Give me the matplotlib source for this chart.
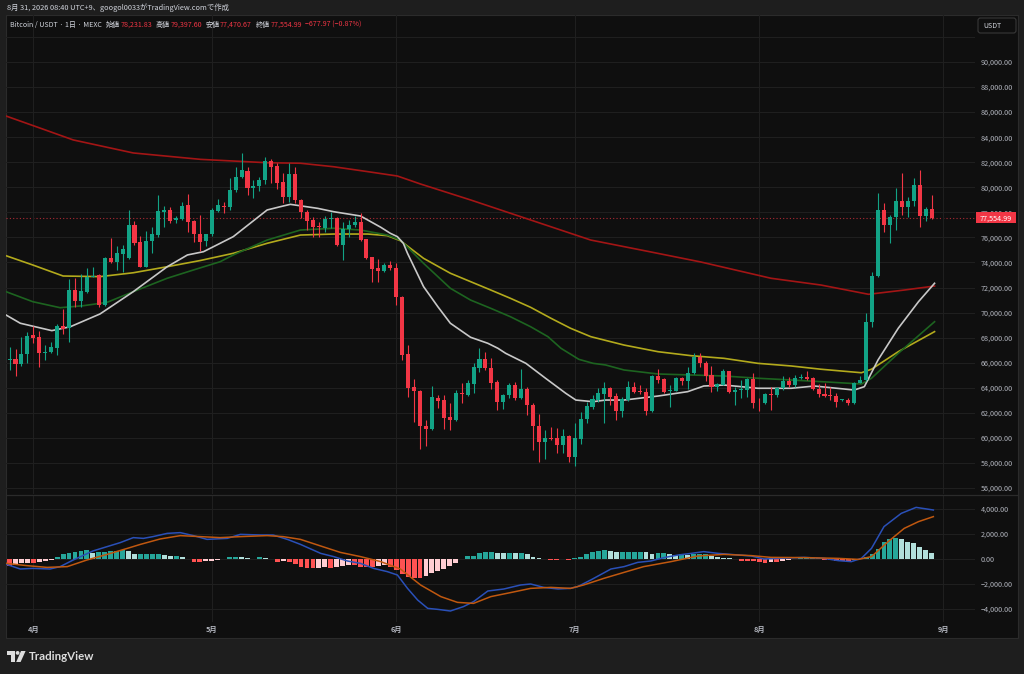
import numpy as np
import pandas as pd
import matplotlib
matplotlib.use('Agg')
import matplotlib.pyplot as plt
import matplotlib.patches as patches

plt.rcParams['font.family'] = ['Noto Sans CJK JP', 'DejaVu Sans']

# --- DATA ---
DATES = pd.date_range('2026-03-27', periods=157, freq='D')

OPEN = [67200, 66220, 66300, 65900, 66720, 68210, 68030, 66800, 66830, 67200,
        68930, 68750, 71800, 70930, 71670, 72840, 73000, 70610, 74330, 74040,
        74680, 74330, 76970, 75610, 73670, 75720, 76190, 78060, 78190, 77360,
        77470, 78590, 77310, 76250, 75720, 76250, 78140, 78540, 78460, 79790,
        80800, 81330, 79920, 80100, 80580, 82100, 81700, 80450, 79200, 81040,
        78990, 78060, 77390, 76910, 76730, 77440, 77520, 75400, 76650, 76990,
        77260, 75850, 74410, 73590, 73350, 73800, 73590, 71270, 66700, 64060,
        63770, 60950, 60740, 63210, 63000, 61640, 61400, 63580, 63420, 64330,
        65610, 66270, 65610, 64440, 62890, 63420, 64220, 63210, 63900, 62630,
        60950, 59670, 60020, 59970, 59430, 60180, 58500, 59910, 61480, 62440,
        63030, 63500, 63960, 63340, 62150, 63030, 64040, 63740, 63690, 62170,
        64940, 64670, 63740, 63770, 64750, 64570, 65150, 66480, 66000, 65020,
        64040, 64250, 65340, 63690, 63820, 63820, 64670, 62810, 62760, 63500,
        63420, 63960, 64570, 64220, 64760, 64840, 64760, 63880, 63510, 63430,
        63370, 63000, 63030, 62760, 64410, 64620, 69230, 72920, 78190, 76990,
        77660, 78910, 78460, 78910, 80180, 77740, 78231.83]
HIGH = [68750, 67280, 67070, 68080, 68480, 68960, 68560, 67420, 67630, 69070,
        70260, 72660, 72760, 73060, 73590, 73670, 73050, 74420, 75930, 75320,
        75400, 78190, 77340, 76140, 76510, 76810, 79390, 78510, 78460, 77710,
        78850, 79470, 77390, 77790, 76270, 78320, 79040, 78850, 80720, 81650,
        82710, 81590, 80580, 80850, 82390, 82230, 81910, 81170, 81910, 81590,
        79050, 78190, 77660, 77260, 77710, 78060, 77600, 77260, 77390, 77710,
        77980, 75900, 74470, 74250, 73930, 74150, 73990, 71300, 67410, 64670,
        63800, 61430, 64140, 63420, 63420, 62760, 63820, 64360, 64620, 65950,
        67200, 66880, 66400, 64620, 63500, 64360, 64490, 65470, 64090, 62760,
        61880, 60630, 60840, 60760, 60710, 60230, 61160, 62090, 62890, 63420,
        63960, 64490, 64090, 63560, 63290, 64570, 64490, 64220, 63960, 64990,
        65470, 64750, 64220, 64830, 64830, 65690, 66750, 66750, 66160, 65740,
        64360, 65470, 65370, 64090, 64620, 64750, 65150, 63160, 63560, 64090,
        64090, 64940, 64890, 65020, 65100, 65370, 64890, 64300, 64360, 64090,
        63560, 63120, 63160, 64490, 64940, 69940, 73270, 79520, 78720, 77790,
        79920, 81170, 79250, 80720, 81380, 78460, 79397.60]
LOW = [65400, 65420, 64940, 65740, 65950, 67550, 65690, 66220, 66750, 66620,
       68270, 67680, 70480, 70480, 71540, 72820, 70480, 70560, 73990, 73400,
       73270, 74280, 75400, 73640, 73640, 74730, 76060, 76860, 77180, 77130,
       77390, 76460, 75660, 74920, 75320, 76140, 78060, 77980, 78190, 79650,
       80720, 79390, 79120, 79730, 80240, 80370, 79840, 78720, 78850, 78720,
       77520, 76590, 76060, 76060, 76460, 76730, 75320, 74200, 76060, 76810,
       75740, 74250, 72470, 72470, 73270, 73400, 70610, 66220, 63290, 61300,
       59090, 59350, 60630, 62360, 60680, 60630, 61380, 62760, 63340, 63610,
       65290, 65420, 63880, 62230, 62280, 63160, 63030, 63080, 61830, 59040,
       58100, 58290, 59830, 58820, 58770, 58100, 57760, 59510, 61160, 62280,
       62890, 61220, 62630, 61430, 61640, 62970, 63560, 63500, 61830, 62100,
       64360, 63610, 62490, 63740, 64220, 63880, 65100, 65690, 64570, 63690,
       63770, 64220, 63560, 62630, 63160, 63290, 62360, 62170, 62710, 62230,
       63290, 63820, 64090, 64090, 64680, 64620, 63830, 63240, 63240, 63030,
       62500, 62950, 62630, 62710, 64360, 64570, 68880, 72870, 76460, 75530,
       76590, 77790, 77600, 78540, 76860, 77340, 77470.67]
CLOSE = [66200, 66300, 65900, 66720, 68160, 68000, 66800, 66880, 67230, 68930,
         68720, 71800, 70930, 71730, 72870, 72920, 70610, 74390, 74040, 74730,
         75050, 76990, 75580, 73670, 75740, 76250, 78110, 78190, 77310, 77520,
         78540, 77260, 76250, 75660, 76250, 78190, 78590, 78460, 79790, 80850,
         81380, 79920, 80100, 80580, 82100, 81650, 80370, 79200, 81040, 78990,
         78060, 77340, 76860, 76810, 77470, 77520, 75400, 76670, 76990, 77260,
         75800, 74330, 73480, 73350, 73800, 73590, 71270, 66620, 64010, 63740,
         60950, 60740, 63260, 62950, 61590, 61400, 63560, 63500, 64360, 65660,
         66270, 65610, 64410, 62890, 63420, 64220, 63210, 63900, 62630, 60950,
         59670, 60020, 59910, 59430, 60150, 58500, 59970, 61510, 62550, 63080,
         63560, 63960, 63240, 62150, 63080, 64040, 63690, 63640, 62170, 64940,
         64620, 63690, 63820, 64750, 64570, 65150, 66430, 66000, 64970, 64040,
         64300, 65340, 63640, 63820, 63900, 64670, 62760, 62760, 63480, 63450,
         63960, 64570, 64220, 64760, 64840, 64730, 63880, 63510, 63370, 63370,
         62890, 63080, 62760, 64410, 64620, 69230, 72920, 78190, 76990, 77660,
         78910, 78460, 78910, 80180, 77740, 78233, 77554.99]

# moving averages, read at sample points (position = candle index)
MA20_POS = [0.4, 2.8, 8.1, 11.2, 16.2, 21.8, 27.5, 30.9, 33.6, 36.4, 38.6, 44.3, 46.5,
            48.2, 52.8, 55.5, 60.0, 63.4, 65.0, 66.2, 67.2, 67.9, 70.6, 73.0, 75.1, 78.5,
            81.4, 83.1, 84.4, 87.8, 91.1, 94.5, 96.2, 99.1, 101.2, 104.3, 110.0, 115.0,
            117.7, 121.1, 126.8, 132.4, 136.3, 143.0, 144.7, 147.0, 150.4, 153.8, 156.5]
MA20_VAL = [69810, 69150, 68560, 68870, 69890, 71670, 73660, 74600, 74860, 75530, 76060,
            78190, 78450, 78640, 78320, 78050, 77710, 76810, 76330, 76060, 75530, 74730,
            72070, 70470, 69150, 68030, 67550, 67150, 66750, 65950, 64760, 63560, 63020,
            62890, 63020, 63020, 63340, 63690, 64140, 64220, 63960, 63960, 64140, 63820,
            64090, 66220, 68750, 70870, 72340]
EMA50_POS = [0.4, 4.9, 9.5, 13.4, 17.4, 21.8, 27.5, 31.9, 36.4, 38.6, 44.3, 49.9, 55.5,
             60.0, 64.5, 66.7, 70.6, 75.1, 78.5, 81.9, 85.2, 88.6, 91.5, 93.7, 96.7, 99.1,
             101.2, 104.3, 110.0, 115.6, 121.1, 126.8, 132.4, 137.4, 144.2, 145.9, 150.4, 156.5]
EMA50_VAL = [71670, 70870, 70390, 70550, 70820, 71670, 72740, 73400, 74060, 74600, 75790,
             76590, 76730, 76590, 76190, 75790, 73930, 71940, 71000, 70340, 69670, 68870,
             68080, 67150, 66270, 65950, 65820, 65420, 65100, 65020, 64940, 64760, 64620,
             64490, 64300, 64760, 66750, 69270]
MA55_POS = [0.4, 4.9, 10.0, 16.2, 21.8, 27.5, 33.1, 38.6, 44.3, 49.9, 55.5, 61.2, 64.5,
            66.7, 70.6, 75.1, 78.5, 81.9, 85.2, 88.6, 92.0, 95.3, 98.7, 104.3, 110.0, 115.6,
            121.1, 126.8, 132.4, 137.4, 144.2, 145.9, 150.4, 156.5]
MA55_VAL = [74540, 73800, 72920, 72870, 73180, 73660, 74160, 74730, 75530, 76190, 76270,
            76270, 76140, 75740, 74330, 73140, 72470, 71800, 71140, 70420, 69550, 68750,
            68080, 67410, 66880, 66560, 66350, 65950, 65740, 65480, 65200, 65480, 66880,
            68480]
MA200_POS = [0.4, 6.1, 11.7, 21.8, 33.1, 44.3, 49.9, 55.5, 61.2, 66.2, 70.1, 78.5, 88.6,
             98.7, 108.8, 117.2, 129.0, 137.4, 145.4, 151.4, 156.5]
MA200_VAL = [85690, 84730, 83780, 82740, 82230, 81960, 81920, 81640, 81250, 80900, 80260,
             78990, 77390, 75790, 74840, 74040, 72740, 72200, 71460, 71800, 72120]

# MACD pane
MACD_POS = [0.5, 2.8, 4.9, 7.8, 9.5, 11.7, 15.0, 17.4, 19.6, 21.8, 23.5, 25.1, 27.5, 29.7,
            31.9, 34.2, 37.6, 39.8, 43.2, 45.3, 47.7, 49.9, 53.3, 55.5, 57.8, 60.0, 62.2,
            64.5, 66.2, 67.9, 69.6, 71.3, 73.0, 75.1, 77.3, 79.0, 81.4, 84.1, 86.9, 88.6,
            90.8, 93.2, 95.3, 96.5, 98.7, 102.1, 104.3, 106.6, 108.8, 111.0, 113.4, 115.6,
            117.7, 120.1, 123.5, 125.7, 127.8, 130.2, 134.6, 137.9, 140.3, 142.5, 144.2,
            145.9, 148.0, 150.9, 153.4, 156.3]
MACD_VAL = [-430, -800, -750, -800, -610, -80, 640, 990, 1310, 1710, 1650, 1790, 2050, 2110,
            1870, 1570, 1650, 1970, 1920, 1920, 1570, 1170, 450, 190, -160, -350, -750,
            -1010, -1280, -2350, -3280, -3950, -4030, -4160, -3810, -3410, -2560, -2400,
            -2080, -2000, -2270, -2400, -2350, -2210, -1680, -800, -610, -270, -160, 110,
            320, 450, 590, 450, 320, 240, 0, 50, 130, 50, -130, -210, 50, 850, 2590, 3650,
            4130, 3920]
SIGNAL_POS = [0.5, 3.9, 7.3, 10.7, 14.0, 17.4, 20.8, 23.0, 26.3, 29.7, 33.1, 36.4, 39.8,
              44.3, 47.0, 49.9, 53.3, 56.6, 60.0, 63.4, 66.7, 70.1, 73.5, 76.3, 79.0, 81.9,
              85.2, 88.6, 92.0, 95.3, 97.5, 100.9, 104.3, 107.6, 112.2, 116.7, 121.1, 125.7,
              129.0, 134.6, 140.3, 143.7, 145.9, 148.7, 151.4, 153.8, 156.3]
SIGNAL_VAL = [-350, -530, -670, -610, -80, 370, 850, 1170, 1600, 1870, 1790, 1710, 1790,
              1870, 1790, 1570, 1040, 530, 190, -210, -800, -2080, -3010, -3470, -3550,
              -3010, -2690, -2350, -2270, -2350, -2080, -1550, -1070, -610, -210, 240, 370,
              270, 130, 110, 50, -30, 190, 1390, 2450, 2990, 3390]
HIST = [-480, -533, -480, -347, -293, -293, -267, -160, -53, 133,
        373, 453, 533, 667, 693, 453, 587, 587, 640, 640,
        747, 640, 373, 373, 373, 400, 400, 320, 267, 267,
        133, 10, -213, -267, -160, -133, -80, 27, 133, 187,
        133, 80, 27, 160, 107, -10, -213, -133, -267, -427,
        -613, -693, -747, -693, -613, -693, -613, -533, -480, -480,
        -613, -613, -613, -560, -480, -613, -880, -1227, -1413, -1547,
        -1547, -1360, -1147, -960, -800, -533, -293, -27, 267,
        267, 507, 587, 587, 507, 453, 507, 453, 453, 400,
        187, 80, 0, -53, -107, -27, -107, 53, 187, 373,
        533, 640, 720, 640, 587, 587, 587, 587, 587, 533,
        400, 453, 453, 373, 320, 373, 320, 373, 373, 400,
        267, 187, 107, 53, 0, -133, -133, -133, -267, -293,
        -213, -213, -160, -80, 0, 53, 53, 53, 53, -107,
        -107, -133, -133, -160, -107, -27, 133, 373, 800, 1333,
        1573, 1653, 1573, 1387, 1307, 987, 720, 453]

MONTHS = pd.to_datetime(['2026-04-01', '2026-05-01', '2026-06-01',
                         '2026-07-01', '2026-08-01', '2026-09-01'])
MONTH_LABELS = ['4月', '5月', '6月', '7月', '8月', '9月']

# --- STYLE ---
BG_OUT = '#1e1e1e'
BG_PANEL = '#0f0f0f'
GRID = '#1f1f1f'
TXT = '#b2b5be'
UP = '#12a386'
DOWN = '#f23645'
W, H = 1024, 674


def fig_rect(x0, y0, x1, y1):
    # pixel box (top-left origin) -> figure fraction
    return [x0 / W, 1 - y1 / H, (x1 - x0) / W, (y1 - y0) / H]


def fmt_price(v, pos=None):
    s = f"{abs(v):,.2f}"
    return ('\u2212' + s) if v < 0 else s


fig = plt.figure(figsize=(W / 100, H / 100), dpi=100, facecolor=BG_OUT)

ax_bg = fig.add_axes([0, 0, 1, 1], zorder=-10)
ax_bg.set_xlim(0, W)
ax_bg.set_ylim(H, 0)
ax_bg.axis('off')
ax_bg.add_patch(patches.Rectangle((6, 15), 1012, 623, fc=BG_PANEL, ec='#2b2b2b', lw=0.8))

ax = fig.add_axes(fig_rect(6, 15, 975, 494))
axm = fig.add_axes(fig_rect(6, 495, 975, 622), sharex=ax)
for a in (ax, axm):
    a.set_facecolor('none')
    for s in a.spines.values():
        s.set_visible(False)
    a.yaxis.tick_right()
    a.tick_params(axis='y', length=0, pad=4, labelsize=5.2, labelcolor=TXT)
    a.grid(True, color=GRID, lw=0.8, zorder=0)

x = np.arange(len(DATES))
o = np.array(OPEN)
c = np.array(CLOSE)
cores = np.where(c >= o, UP, DOWN)

# candles
ax.vlines(x, LOW, HIGH, colors=cores, lw=0.8, zorder=3)
altura = np.maximum(np.abs(c - o), 60)
ax.bar(x, altura, bottom=np.minimum(o, c), width=0.68, color=cores, lw=0, zorder=4)

# moving averages
ax.plot(MA200_POS, MA200_VAL, color='#a31515', lw=1.2, zorder=2)
ax.plot(MA55_POS, MA55_VAL, color='#b3aa1c', lw=1.2, zorder=2)
ax.plot(EMA50_POS, EMA50_VAL, color='#1d6420', lw=1.2, zorder=2)
ax.plot(MA20_POS, MA20_VAL, color='#c8c8c8', lw=1.2, zorder=2)

ax.axhline(CLOSE[-1], color=DOWN, lw=0.8, ls=(0, (1, 2)), alpha=0.7, zorder=1)

ax.set_ylim(55522, 93751)
ax.set_yticks(np.arange(56000, 92001, 2000))
ax.yaxis.set_major_formatter(lambda v, p: '' if v > 90000 else fmt_price(v))

# MACD histogram
hist = np.array(HIST, dtype=float)
prev = np.r_[hist[0], hist[:-1]]
hcores = np.where(hist >= 0,
                  np.where(hist >= prev, '#26a69a', '#b2dfdb'),
                  np.where(hist <= prev, '#ff5252', '#ffcdd2'))
axm.bar(x, hist, width=0.82, color=hcores, lw=0, zorder=2)
axm.plot(MACD_POS, MACD_VAL, color='#2a50b8', lw=1.1, zorder=3)
axm.plot(SIGNAL_POS, SIGNAL_VAL, color='#c0580f', lw=1.1, zorder=3)
axm.set_ylim(-5040, 5120)
axm.set_yticks(np.arange(-4000, 4001, 2000))
axm.yaxis.set_major_formatter(fmt_price)

pos_meses = (MONTHS - DATES[0]).days.values
axm.set_xticks(pos_meses)
axm.set_xticklabels(MONTH_LABELS)
axm.tick_params(axis='x', length=0, pad=3, labelsize=5.3, labelcolor=TXT)
for t in axm.get_xticklabels():
    t.set_fontweight('bold')
ax.tick_params(axis='x', length=0, labelbottom=False)
ax.set_xlim(0.4, 163.3)

# --- overlay (pixel coordinates) ---
ov = fig.add_axes([0, 0, 1, 1], zorder=10)
ov.set_xlim(0, W)
ov.set_ylim(H, 0)
ov.axis('off')

ov.plot([6, 1018], [494.5, 494.5], color='#2b2b2b', lw=0.9)

ov.text(7, 8, '8月 31, 2026 08:40 UTC+9、googol0033がTradingView.comで作成',
        color='#d1d4dc', fontsize=5.3, va='center', ha='left')

renderer = fig.canvas.get_renderer()
PARTES = [('Bitcoin / USDT · 1日 · MEXC', '#d1d4dc', 3.5),
          ('始値', '#d1d4dc', 0.5), ('78,231.83', DOWN, 3.5),
          ('高値', '#d1d4dc', 0.5), ('79,397.60', DOWN, 3.5),
          ('安値', '#d1d4dc', 0.5), ('77,470.67', DOWN, 3.5),
          ('終値', '#d1d4dc', 0.5), ('77,554.99', DOWN, 3.5),
          ('\u2212677.97 (\u22120.87%)', DOWN, 0)]
px = 10
for txt, cor, gap in PARTES:
    t = ov.text(px, 24.5, txt, color=cor, fontsize=5.1, va='center', ha='left')
    px = t.get_window_extent(renderer).x1 + gap

# USDT box
ov.add_patch(patches.FancyBboxPatch((978, 18), 38, 15, boxstyle='round,pad=0,rounding_size=2.5',
                                    fc=BG_PANEL, ec='#383838', lw=0.8))
ov.text(983, 25.7, 'USDT', color='#d1d4dc', fontsize=5, va='center', ha='left')

# last price label
y_disp = ax.transData.transform((0, CLOSE[-1]))[1]
y_px = H - y_disp
ov.add_patch(patches.Rectangle((976, y_px - 5.5), 40, 11, fc=DOWN, ec='none'))
ov.text(980, y_px + 0.3, fmt_price(CLOSE[-1]), color='white', fontsize=5.2,
        va='center', ha='left')

# TradingView logo
logo = '#dcdcdc'
ov.add_patch(patches.Polygon([(7, 651), (15, 651), (15, 662), (11, 662), (11, 654.5), (7, 654.5)],
                             closed=True, fc=logo, ec='none'))
ov.add_patch(patches.Circle((17.6, 652.9), 1.9, fc=logo, ec='none'))
ov.add_patch(patches.Polygon([(21, 651), (25.6, 651), (20.6, 662), (16.2, 662)],
                             closed=True, fc=logo, ec='none'))
ov.text(29, 656.8, 'TradingView', color=logo, fontsize=8.3, fontweight='bold',
        family=['Lato', 'DejaVu Sans'], va='center', ha='left')

fig.savefig('out.png', dpi=100, facecolor=fig.get_facecolor())
